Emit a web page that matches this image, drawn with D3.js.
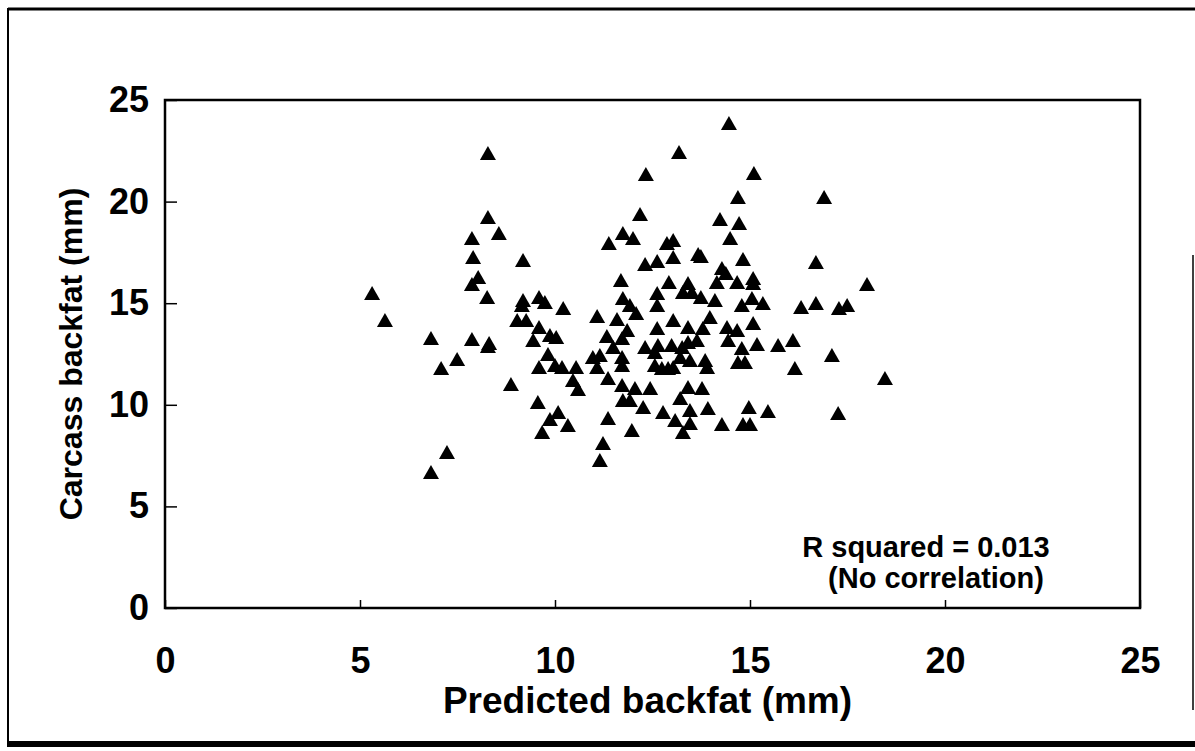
<!DOCTYPE html>
<html>
<head>
<meta charset="utf-8">
<script src="https://cdn.jsdelivr.net/npm/d3@7"></script>
<style>
  body { margin: 0; background: #fff; }
  text { font-family: "Liberation Sans", Arial, sans-serif; font-weight: bold; fill: #000; }
</style>
</head>
<body>
<div id="chart"></div>
<script>
// Predicted backfat (mm)
var predicted = [
    5.31, 5.64, 6.82, 7.08, 7.49, 7.23, 6.82, 8.28, 8.28, 8.56,
    7.87, 7.90, 8.03, 7.87, 8.26, 7.87, 8.31, 8.28, 8.87, 9.18,
    9.18, 9.15, 9.59, 9.74, 10.21, 9.03, 9.26, 9.59, 9.44, 9.87,
    10.03, 9.82, 9.59, 10.00, 10.18, 10.54, 10.46, 10.59, 9.56, 10.08,
    9.87, 10.33, 9.67, 11.08, 11.59, 11.33, 11.69, 11.74, 11.92, 12.08,
    11.85, 11.72, 10.97, 11.15, 11.08, 11.72, 11.72, 11.36, 11.72, 12.05,
    11.74, 11.92, 11.36, 11.97, 11.23, 11.15, 11.38, 11.74, 12.00, 12.18,
    12.33, 11.49, 12.31, 12.62, 12.87, 13.03, 13.03, 13.18, 12.92, 13.41,
    13.28, 12.62, 12.62, 12.44, 12.26, 12.31, 12.62, 13.03, 12.64, 12.56,
    12.99, 12.56, 12.74, 12.90, 13.03, 13.21, 13.26, 13.41, 13.64, 13.41,
    12.77, 13.08, 13.21, 13.41, 13.46, 13.46, 13.28, 13.46, 13.67, 13.74,
    13.77, 13.92, 14.28, 14.82, 15.00, 14.97, 15.46, 13.74, 14.10, 14.15,
    14.67, 15.08, 15.08, 13.97, 13.79, 13.85, 13.90, 14.28, 14.38, 14.82,
    14.46, 15.10, 14.69, 14.23, 14.72, 14.49, 15.05, 14.79, 15.33, 15.08,
    14.67, 14.41, 14.44, 14.79, 15.18, 14.69, 14.87, 15.72, 16.10, 16.15,
    16.31, 16.69, 17.28, 17.49, 17.10, 18.46, 17.26, 16.90, 16.69, 18.00,
    13.51
];

// Carcass backfat (mm), same order
var carcass = [
    15.50, 14.17, 13.29, 11.81, 12.25, 7.68, 6.69, 22.39, 19.24, 18.45,
    18.21, 17.27, 16.29, 15.94, 15.30, 13.24, 13.04, 12.89, 11.02, 17.13,
    15.16, 14.91, 15.31, 15.06, 14.76, 14.17, 14.17, 13.83, 13.19, 13.43,
    13.34, 12.50, 11.86, 11.96, 11.86, 11.86, 11.22, 10.78, 10.14, 9.65,
    9.30, 9.01, 8.66, 14.37, 14.22, 13.39, 16.14, 15.26, 14.91, 14.52,
    13.68, 13.29, 12.35, 12.45, 11.86, 12.35, 11.96, 11.32, 10.97, 10.83,
    10.24, 10.24, 9.35, 8.76, 8.12, 7.28, 17.96, 18.45, 18.21, 19.39,
    21.36, 12.84, 16.93, 17.08, 17.96, 18.11, 17.27, 22.44, 16.04, 15.99,
    15.55, 15.50, 14.91, 10.83, 9.89, 12.84, 13.78, 14.17, 12.94, 12.60,
    12.94, 11.96, 11.81, 11.81, 11.86, 12.35, 12.84, 13.09, 13.19, 13.83,
    9.65, 9.25, 10.33, 10.88, 9.74, 9.10, 8.66, 12.20, 17.42, 17.32,
    10.83, 9.84, 9.06, 9.06, 9.06, 9.89, 9.69, 15.31, 15.16, 16.04,
    16.04, 15.99, 16.24, 14.32, 13.78, 12.20, 11.86, 16.73, 16.49, 17.18,
    23.87, 21.41, 20.23, 19.14, 18.95, 18.21, 15.26, 14.91, 15.01, 14.03,
    13.68, 13.83, 13.19, 12.80, 12.99, 12.11, 12.11, 12.94, 13.19, 11.81,
    14.81, 15.01, 14.76, 14.91, 12.45, 11.32, 9.60, 20.23, 17.03, 15.94,
    15.55
];

var tickValues = [ 0, 5, 10, 15, 20, 25 ];

var xTitle = 'Predicted backfat (mm)';
var yTitle = 'Carcass backfat (mm)';
var noteLines = [ 'R squared = 0.013', '(No correlation)' ];

var width  = 1195;
var height = 751;

// plot box in page pixels
var plot = { left: 165, right: 1140, top: 100, bottom: 608 };

var svg = d3.select ('#chart').append ('svg')
            .attr ('width', width)
            .attr ('height', height);

// outer frame
svg.append ('line').attr ('x1', 8).attr ('y1', 9).attr ('x2', 1195).attr ('y2', 9)
   .attr ('stroke', '#000').attr ('stroke-width', 3);
svg.append ('line').attr ('x1', 8).attr ('y1', 8).attr ('x2', 8).attr ('y2', 746)
   .attr ('stroke', '#000').attr ('stroke-width', 2);
svg.append ('line').attr ('x1', 7).attr ('y1', 744).attr ('x2', 1195).attr ('y2', 744)
   .attr ('stroke', '#000').attr ('stroke-width', 6);
svg.append ('line').attr ('x1', 1193).attr ('y1', 255).attr ('x2', 1193).attr ('y2', 710)
   .attr ('stroke', '#000').attr ('stroke-width', 1.5);

var xScale = d3.scaleLinear ()
               .domain ([ 0, 25 ])
               .range ([ plot.left, plot.right ]);

var yScale = d3.scaleLinear ()
               .domain ([ 0, 25 ])
               .range ([ plot.bottom, plot.top ]);

// axes with the ticks pointing into the plot
var xAxis = d3.axisBottom (xScale)
              .tickValues (tickValues)
              .tickSizeInner (-8)
              .tickSizeOuter (0)
              .tickPadding (39);

var yAxis = d3.axisLeft (yScale)
              .tickValues (tickValues)
              .tickSizeInner (-12)
              .tickSizeOuter (0)
              .tickPadding (16);

var gx = svg.append ('g')
            .attr ('transform', 'translate(0,' + plot.bottom + ')')
            .call (xAxis);

var gy = svg.append ('g')
            .attr ('transform', 'translate(' + plot.left + ',0)')
            .call (yAxis);

[ gx, gy ].forEach (function (g)
{
    g.select ('.domain').remove ();
    g.selectAll ('.tick line').attr ('stroke', '#000').attr ('stroke-width', 1.5);
    g.selectAll ('.tick text')
     .attr ('font-family', '"Liberation Sans", Arial, sans-serif')
     .attr ('font-weight', 'bold')
     .attr ('font-size', '36px')
     .attr ('fill', '#000');
});

// plot frame
svg.append ('rect')
   .attr ('x', plot.left)
   .attr ('y', plot.top)
   .attr ('width', plot.right - plot.left)
   .attr ('height', plot.bottom - plot.top)
   .attr ('fill', 'none')
   .attr ('stroke', '#000')
   .attr ('stroke-width', 2.5);

// the triangles
var triangle = 'M0,-7L8,7L-8,7Z';

svg.append ('g')
   .selectAll ('path')
   .data (predicted)
   .enter ()
   .append ('path')
   .attr ('d', triangle)
   .attr ('transform', function (d, i) { return 'translate(' + xScale (d) + ',' + yScale (carcass[i]) + ')'; })
   .attr ('fill', '#000');

// titles
svg.append ('text')
   .attr ('x', (plot.left + plot.right) / 2 - 5)
   .attr ('y', 713)
   .attr ('text-anchor', 'middle')
   .attr ('font-size', '37px')
   .text (xTitle);

svg.append ('text')
   .attr ('transform', 'translate(82,' + ((plot.top + plot.bottom) / 2) + ') rotate(-90)')
   .attr ('text-anchor', 'middle')
   .attr ('font-size', '32px')
   .text (yTitle);

// note in the lower right corner
var noteX = [ 926, 936 ];

svg.selectAll ('.note')
   .data (noteLines)
   .enter ()
   .append ('text')
   .attr ('class', 'note')
   .attr ('x', function (d, i) { return noteX[i]; })
   .attr ('y', function (d, i) { return 557 + i * 31; })
   .attr ('text-anchor', 'middle')
   .attr ('font-size', '29px')
   .text (function (d) { return d; });
</script>
</body>
</html>
